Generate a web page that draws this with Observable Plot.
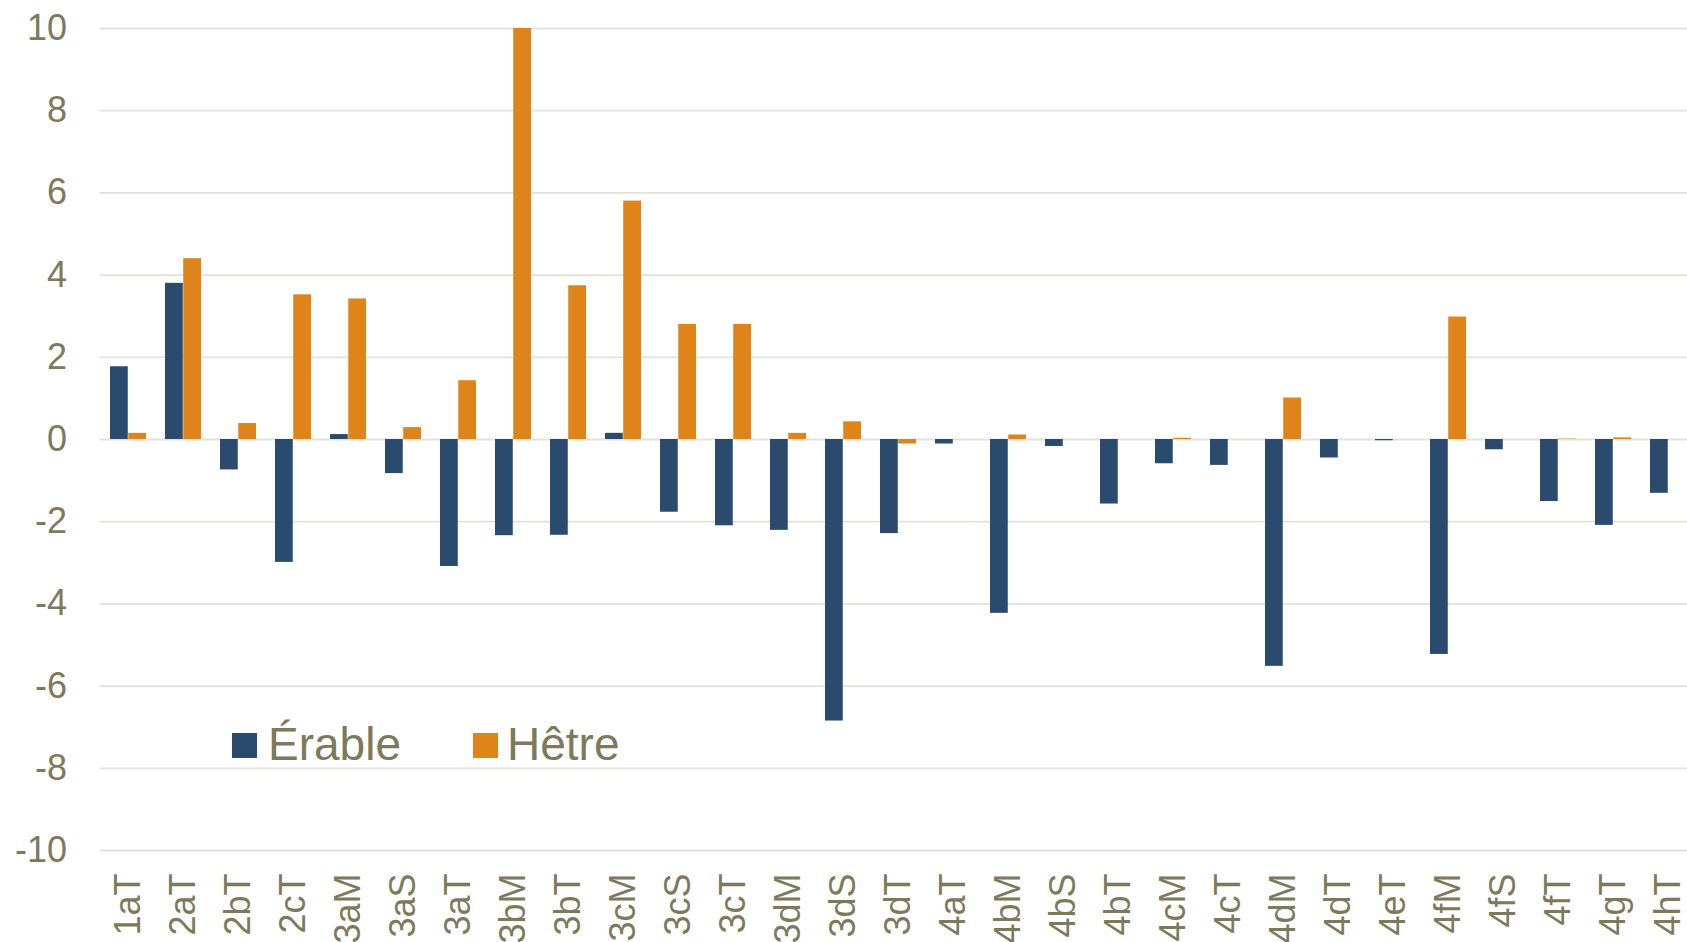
<!DOCTYPE html>
<html>
<head>
<meta charset="utf-8">
<script src="https://cdn.jsdelivr.net/npm/d3@7"></script>
<script src="https://cdn.jsdelivr.net/npm/@observablehq/plot@0.6"></script>
<style>
  html, body { margin: 0; padding: 0; background: white; overflow: hidden; }
  #wrap { position: relative; width: 1687px; height: 942px; }
  .legend-sw { position: absolute; width: 25px; height: 25px; }
  .legend-tx { position: absolute; font-family: "Liberation Sans", Arial, sans-serif; font-size: 46px; line-height: 46px; color: #7c7a5b; white-space: nowrap; }
</style>
</head>
<body>
<div id="wrap"></div>
<script>
// ---- Data ----
const categories = ["1aT","2aT","2bT","2cT","3aM","3aS","3aT","3bM","3bT","3cM","3cS","3cT","3dM","3dS","3dT","4aT","4bM","4bS","4bT","4cM","4cT","4dM","4dT","4eT","4fM","4fS","4fT","4gT","4hT"];
const series = ["Érable", "Hêtre"];
const erable = [1.77,3.80,-0.74,-2.99,0.12,-0.83,-3.09,-2.34,-2.33,0.15,-1.77,-2.10,-2.21,-6.85,-2.29,-0.11,-4.23,-0.17,-1.57,-0.59,-0.63,-5.52,-0.45,-0.03,-5.23,-0.25,-1.51,-2.09,-1.31];
const hetre  = [0.15,4.40,0.39,3.52,3.42,0.29,1.43,10.0,3.74,5.80,2.80,2.80,0.15,0.43,-0.11,0,0.11,0,0,0.03,0,1.01,0,0,2.98,0,0.01,0.04,0];
const yTicks = [-10,-8,-6,-4,-2,0,2,4,6,8,10];
const colors = ["#2a4b6e", "#de8419"];

const erableRows = categories.map((c, i) => ({cat: c, series: series[0], value: erable[i]}));
const hetreRows  = categories.map((c, i) => ({cat: c, series: series[1], value: hetre[i]}));

const textColor = "#7c7a5b";
const gridColor = "#e2e2da";

const W = 1687, H = 942;
const mL = 99.5, mT = 28, plotBottom = 850;
const step = 55.1;
const padIn = 0.338, padOut = 0.169;
const half = step * (1 - padIn) / 2;   // half of the group width -> one bar per series

const chart = Plot.plot({
  width: W,
  height: H,
  marginLeft: mL,
  marginRight: 0,
  marginTop: mT,
  marginBottom: H - plotBottom,
  style: {fontFamily: "'Liberation Sans', Arial, sans-serif", fontSize: "36px", color: textColor, background: "white", overflow: "hidden"},
  x: {domain: categories, range: [mL, mL + step * categories.length], paddingInner: padIn, paddingOuter: padOut, label: null},
  y: {domain: [-10, 10], label: null},
  color: {domain: series, range: colors},
  marks: [
    Plot.ruleY(yTicks, {stroke: gridColor, strokeWidth: 1.8}),
    Plot.axisY({ticks: yTicks, tickSize: 0, tickPadding: 33, tickFormat: d => String(d), label: null, fill: textColor}),
    Plot.barY(erableRows, {x: "cat", y: "value", fill: "series", insetRight: half}),
    Plot.barY(hetreRows, {x: "cat", y: "value", fill: "series", insetLeft: half}),
    Plot.axisX({anchor: "bottom", tickSize: 0, tickPadding: 23, tickRotate: -90, label: null, fill: textColor})
  ]
});

const wrap = document.getElementById("wrap");
wrap.appendChild(chart);

// Legend overlay (inside the plot area, as in the reference)
const legendPos = [{sx: 232, tx: 268}, {sx: 473, tx: 507}];
series.forEach((s, i) => {
  const sw = document.createElement("div");
  sw.className = "legend-sw";
  sw.style.left = legendPos[i].sx + "px";
  sw.style.top = "733px";
  sw.style.background = colors[i];
  wrap.appendChild(sw);
  const tx = document.createElement("div");
  tx.className = "legend-tx";
  tx.style.left = legendPos[i].tx + "px";
  tx.style.top = "721px";
  tx.textContent = s;
  wrap.appendChild(tx);
});
</script>
</body>
</html>
